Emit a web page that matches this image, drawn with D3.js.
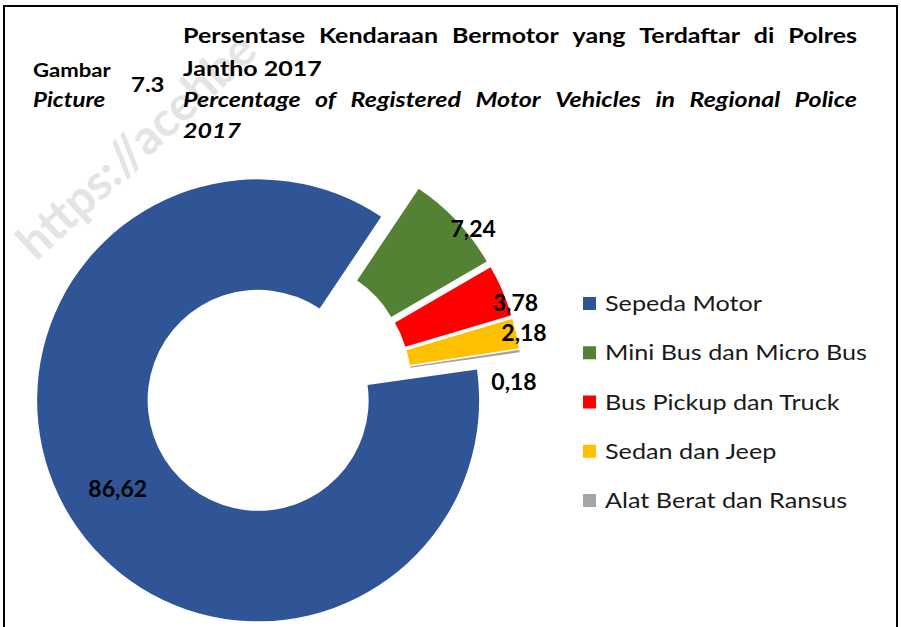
<!DOCTYPE html>
<html>
<head>
<meta charset="utf-8">
<script src="https://cdn.jsdelivr.net/npm/d3@7"></script>
<style>
  html, body { margin: 0; padding: 0; background: #fff; }
  svg { display: block; }
</style>
</head>
<body>
<svg id="chart" width="901" height="627"></svg>
<script>
// ---- data ----
const categories = ["Sepeda Motor", "Mini Bus dan Micro Bus", "Bus Pickup dan Truck", "Sedan dan Jeep", "Alat Berat dan Ransus"];
const values = [86.62, 7.24, 3.78, 2.18, 0.18];
const valueLabels = ["86,62", "7,24", "3,78", "2,18", "0,18"];
const colors = ["#2F5597", "#548235", "#FF0000", "#FFC000", "#A5A5A5"];
const titleLines = ["Persentase Kendaraan Bermotor yang Terdaftar di Polres", "Jantho 2017"];
const titleLinesEn = ["Percentage of Registered Motor Vehicles in Regional Police", "2017"];
const figLabel = ["Gambar", "Picture", "7.3"];

const svg = d3.select("#chart");
const FONT = "Lato, 'Open Sans', sans-serif";
const SX = 1.19; // horizontal stretch of the reference's typeface

// watermark
svg.append("text")
  .attr("transform", "translate(36,262) rotate(-43)")
  .attr("font-family", FONT).attr("font-weight", "bold").attr("font-size", 48)
  .attr("fill", "#e4e4e4")
  .text("https://acehbe");

// frame
svg.append("rect").attr("x", 4).attr("y", 6).attr("width", 893).attr("height", 660)
  .attr("fill", "none").attr("stroke", "#000").attr("stroke-width", 2);

// ---- donut ----
const cx = 281, cy = 386, R = 221, r0 = 110.5;
const deg = Math.PI / 180;
const pie = d3.pie().sort(null).value(d => d)
  .startAngle(82 * deg).endAngle(442 * deg);
const arcs = pie(values);
const arc = d3.arc().innerRadius(r0).outerRadius(R);
const explode = i => i === 0 ? 27 : 20;

const g = svg.append("g").attr("transform", `translate(${cx},${cy})`);
const sliceOff = arcs.map((a, i) => {
  const m = (a.startAngle + a.endAngle) / 2;
  return [explode(i) * Math.sin(m), -explode(i) * Math.cos(m)];
});
g.selectAll("path.slice").data(arcs).join("path")
  .attr("class", "slice")
  .attr("d", arc)
  .attr("fill", (d, i) => colors[i])
  .attr("transform", (d, i) => `translate(${sliceOff[i][0]},${sliceOff[i][1]})`);

// labels: big slice at centroid, small slices just outside the outer edge
const labelPos = [];
arcs.forEach((a, i) => {
  const m = (a.startAngle + a.endAngle) / 2;
  const span = a.endAngle - a.startAngle;
  if (i === 0) {
    const c = arc.centroid(a);
    labelPos.push([c[0] + sliceOff[i][0], c[1] + sliceOff[i][1]]);
  } else if (a.data < 1) {
    const p = labelPos[i - 1];
    labelPos.push([p[0] - 10, p[1] + 49]);
  } else {
    const ang = m + (span > 10 * deg ? 4 * deg : 0), rr = R + 8;
    labelPos.push([sliceOff[i][0] + rr * Math.sin(ang), sliceOff[i][1] - rr * Math.cos(ang)]);
  }
});
g.selectAll("text.lbl").data(arcs).join("text")
  .attr("class", "lbl")
  .attr("x", (d, i) => labelPos[i][0])
  .attr("y", (d, i) => labelPos[i][1])
  .attr("text-anchor", "middle").attr("dominant-baseline", "central")
  .attr("font-family", FONT).attr("font-weight", "bold").attr("font-size", 23)
  .attr("fill", "#000")
  .text((d, i) => valueLabels[i]);

// ---- legend ----
const legendY = d3.scalePoint().domain(categories).range([303, 500]);
const items = svg.append("g").selectAll("g").data(categories).join("g")
  .attr("transform", d => `translate(583,${legendY(d)})`);
items.append("rect").attr("x", 0).attr("y", -6).attr("width", 13).attr("height", 13)
  .attr("fill", (d, i) => colors[i]);
items.append("text")
  .attr("transform", "translate(22,0) scale(1.2,1)")
  .attr("dominant-baseline", "central")
  .attr("font-family", FONT).attr("font-size", 21).attr("fill", "#1a1a1a")
  .text(d => d);

// ---- title ----
function justified(text, x0, x1, y, style) {
  const grp = svg.append("g").attr("transform", `translate(${x0},${y}) scale(${SX},1)`);
  const t = grp.append("text")
    .attr("font-family", FONT).attr("font-weight", "bold").attr("font-size", 21)
    .attr("font-style", style).attr("fill", "#000");
  const words = text.split(" ");
  const spans = words.map(w => t.append("tspan").text(w));
  const widths = spans.map(s => s.node().getComputedTextLength());
  const total = d3.sum(widths);
  const gap = ((x1 - x0) / SX - total) / (words.length - 1);
  let x = 0;
  spans.forEach((s, i) => { s.attr("x", x); x += widths[i] + gap; });
}
function plain(text, x, y, style, size, sx) {
  svg.append("text").attr("transform", `translate(${x},${y}) scale(${sx || SX},1)`)
    .attr("font-family", FONT).attr("font-weight", "bold").attr("font-size", size || 21)
    .attr("font-style", style).attr("fill", "#000").text(text);
}
justified(titleLines[0], 183, 857, 43, "normal");
plain(titleLines[1], 183, 76, "normal");
justified(titleLinesEn[0], 183, 857, 107, "italic");
plain(titleLinesEn[1], 183, 138, "italic");
plain(figLabel[0], 33, 77, "normal", 18, 1.23);
plain(figLabel[1], 33, 107, "italic", 20, 1.2);
plain(figLabel[2], 131, 92, "normal", 20, 1.2);
</script>
</body>
</html>
